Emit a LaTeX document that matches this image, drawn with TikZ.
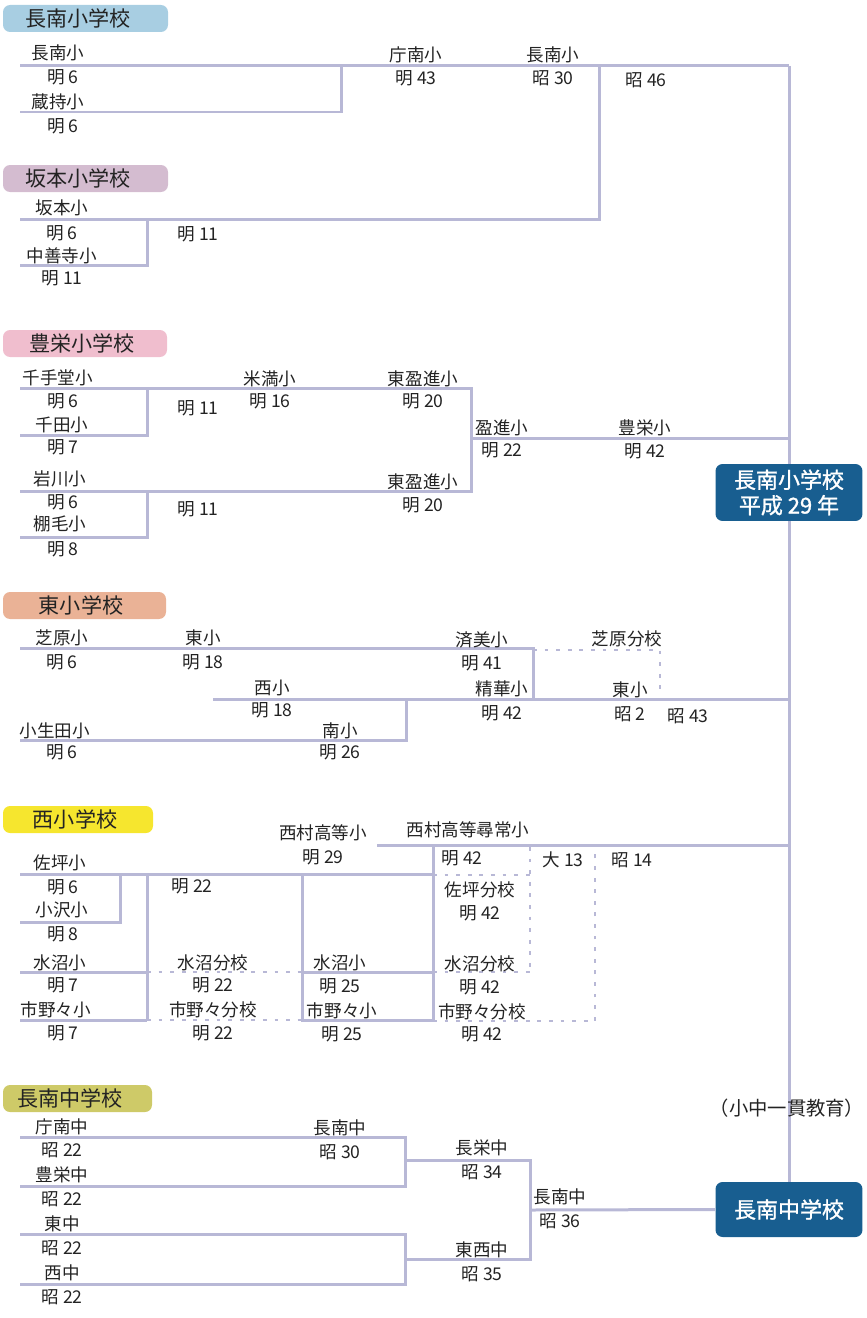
\documentclass[tikz,border=0pt]{standalone}
\usepackage{fontspec}
\setmainfont{Noto Sans CJK JP}
\newfontfamily\boxfont[FakeBold=1.2]{Noto Sans CJK JP}
\definecolor{lineC}{RGB}{184,184,214}
\definecolor{boxC}{RGB}{24,94,144}
\definecolor{txtC}{RGB}{35,35,35}
\definecolor{tagA}{RGB}{168,206,226}
\definecolor{tagB}{RGB}{212,188,208}
\definecolor{tagC}{RGB}{240,190,206}
\definecolor{tagD}{RGB}{234,178,150}
\definecolor{tagE}{RGB}{246,230,46}
\definecolor{tagF}{RGB}{206,202,104}
\tikzset{
	ln/.style={lineC, line width=0.06cm},
	dl/.style={lineC, line width=0.05cm, dash pattern=on 2.2pt off 4.4pt},
	lab/.style={inner sep=0pt, text=txtC, font=\fontsize{10}{12}\selectfont},
	hdr/.style={inner sep=0pt, text=txtC, font=\fontsize{12}{14}\selectfont},
	bigbox/.style={fill=boxC, rounded corners=4pt, text=white, align=center, inner sep=0pt,
		minimum width=2.94cm, font=\boxfont\fontsize{12.5}{14.5}\selectfont}
}
\begin{document}
\begin{tikzpicture}[x=0.02cm,y=-0.02cm]
	\useasboundingbox (0,0) rectangle (866,1318);
	\foreach \c/\ya/\xb/\xt/\t in {tagA/5/168/78/長南小学校, tagB/165/168/78/坂本小学校, tagC/330/167/82/豊栄小学校,
		tagD/592/166/81/東小学校, tagE/806/153/75/西小学校, tagF/1085/152/70/長南中学校}{
		\fill[\c, rounded corners=4pt] (3,\ya) rectangle (\xb,\ya+27);
		\node[hdr] (h\ya) at (\xt,\ya+13.5) {\t};
	}
	\node[bigbox, minimum height=1.14cm] (esb) at (789,492.5) {長南小学校\\平成 29 年};
	\node[bigbox, minimum height=1.1cm] (mjh) at (789,1209.5) {長南中学校};
	\draw[ln] (789,66)--(esb.north);
	\draw[ln] (esb.south)--(mjh.north);
	\draw[ln] (20,66)--(789,66);
	\draw[ln] (20,112)--(341,112)--(341,66);
	\draw[ln] (20,219)--(599,219)--(599,66);
	\draw[ln] (20,265)--(147,265)--(147,219);
	\draw[ln] (20,388)--(471,388)--(471,491)--(20,491);
	\draw[ln] (20,435)--(147,435)--(147,388);
	\draw[ln] (20,537)--(147,537)--(147,491);
	\draw[ln] (471,438)--(789,438);
	\draw[ln] (20,648)--(533,648)--(533,699);
	\draw[ln] (213,699)--(789,699);
	\draw[ln] (20,740)--(406,740)--(406,699);
	\draw[dl] (533,650)--(660,650)--(660,692);
	\draw[ln] (377,845)--(789,845);
	\draw[ln] (20,874)--(433,874);
	\draw[ln] (433,845)--(433,1020);
	\draw[ln] (20,922)--(120,922)--(120,874);
	\draw[ln] (147,874)--(147,1020);
	\draw[ln] (20,972)--(147,972);
	\draw[ln] (20,1020)--(147,1020);
	\draw[dl] (147,972)--(302,972);
	\draw[dl] (147,1020)--(302,1020);
	\draw[ln] (302,874)--(302,1020)--(433,1020);
	\draw[ln] (302,972)--(433,972);
	\draw[dl] (433,875)--(530,875);
	\draw[dl] (433,972)--(530,972);
	\draw[dl] (530,847)--(530,972);
	\draw[dl] (433,1021)--(595,1021)--(595,847);
	\draw[ln] (20,1137)--(405,1137)--(405,1186)--(20,1186);
	\draw[ln] (405,1160)--(530,1160)--(530,1259)--(405,1259);
	\draw[ln] (20,1234)--(405,1234)--(405,1284)--(20,1284);
	\draw[ln] (530,1210)--(mjh.west);
	\node[inner sep=0pt, text=txtC, font=\fontsize{11}{13}\selectfont] (ikkan) at (787,1108) {（小中一貫教育）};
	\foreach \x/\y/\t in {58/53/長南小, 63/77/明 6, 58/102/蔵持小, 63/126/明 6, 416/55/庁南小, 416/78/明 43,
		553/55/長南小, 553/78/昭 30, 646/80/昭 46,
		62/208/坂本小, 62/233/明 6, 62/256/中善寺小, 62/278/明 11, 198/234/明 11,
		58/378/千手堂小, 63/401/明 6, 62/425/千田小, 63/447/明 7, 198/408/明 11, 270/379/米満小, 270/401/明 16,
		423/379/東盈進小, 423/401/明 20, 60/479/岩川小, 63/502/明 6, 60/524/棚毛小, 63/549/明 8, 198/509/明 11,
		423/482/東盈進小, 423/505/明 20, 502/428/盈進小, 502/450/明 22, 645/428/豊栄小, 645/451/明 42,
		62/638/芝原小, 62/662/明 6, 203/638/東小, 203/662/明 18, 272/688/西小, 272/710/明 18, 55/731/小生田小,
		62/752/明 6, 340/731/南小, 340/752/明 26, 482/640/済美小, 482/663/明 41, 502/689/精華小, 502/713/明 42,
		627/639/芝原分校, 630/690/東小, 630/714/昭 2, 688/716/昭 43,
		60/863/佐坪小, 63/887/明 6, 62/910/小沢小, 63/934/明 8, 60/963/水沼小, 63/985/明 7, 56/1010/市野々小,
		63/1033/明 7, 192/886/明 22, 213/963/水沼分校, 213/985/明 22, 213/1010/市野々分校, 213/1033/明 22,
		340/963/水沼小, 340/986/明 25, 342/1011/市野々小, 342/1034/明 25, 323/833/西村高等小, 323/857/明 29,
		468/830/西村高等尋常小, 462/858/明 42, 480/890/佐坪分校, 480/913/明 42, 480/964/水沼分校, 480/987/明 42,
		482/1012/市野々分校, 482/1034/明 42, 563/860/大 13, 632/860/昭 14,
		62/1127/庁南中, 62/1150/昭 22, 62/1175/豊栄中, 62/1199/昭 22, 62/1224/東中, 62/1248/昭 22, 62/1273/西中,
		62/1297/昭 22, 340/1128/長南中, 340/1152/昭 30, 482/1148/長栄中, 482/1172/昭 34, 482/1250/東西中,
		482/1274/昭 35, 560/1197/長南中, 560/1221/昭 36}
		\node[lab] (t\x-\y) at (\x,\y) {\t};
\end{tikzpicture}
\end{document}
